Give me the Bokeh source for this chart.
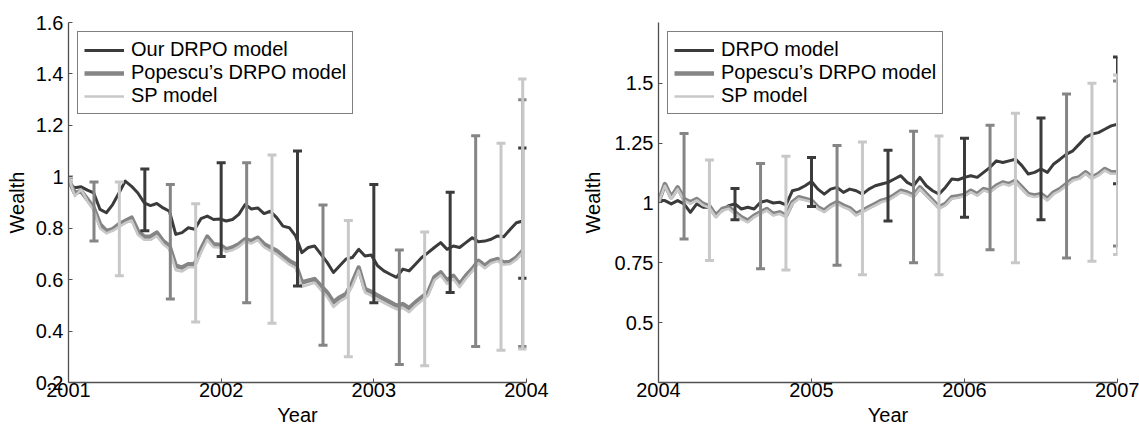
import numpy as np
from bokeh.plotting import figure
from bokeh.layouts import row
from bokeh.models import (Range1d, FixedTicker, CustomJSTickFormatter, Legend,
                          LegendItem, ColumnDataSource)
from bokeh.embed import file_html
from bokeh.resources import INLINE

FONT = "Liberation Sans"
FS = "20px"
DARK = "#3b3b3b"
MED = "#858585"
LIGHT = "#c8c8c8"

# ---------------- left panel data (2001-2004) ----------------
left_years = np.linspace(2001.0, 2003.975, 73)
left_ours = [0.976, 0.957, 0.961, 0.948, 0.937, 0.873, 0.860, 0.892, 0.937, 0.983,
             0.963, 0.937, 0.899, 0.888, 0.896, 0.879, 0.866, 0.776, 0.783, 0.802,
             0.796, 0.837, 0.847, 0.834, 0.836, 0.828, 0.834, 0.854, 0.892, 0.875,
             0.879, 0.857, 0.866, 0.841, 0.808, 0.802, 0.770, 0.705, 0.725, 0.731,
             0.699, 0.667, 0.628, 0.654, 0.680, 0.686, 0.718, 0.692, 0.696, 0.654,
             0.634, 0.621, 0.609, 0.641, 0.634, 0.660, 0.686, 0.705, 0.725, 0.744,
             0.718, 0.731, 0.725, 0.744, 0.763, 0.747, 0.750, 0.757, 0.770, 0.767,
             0.795, 0.821, 0.828]
left_pop = [0.989, 0.937, 0.944, 0.912, 0.879, 0.815, 0.789, 0.796, 0.815, 0.828,
            0.841, 0.789, 0.767, 0.767, 0.783, 0.750, 0.731, 0.654, 0.647, 0.660,
            0.660, 0.718, 0.767, 0.738, 0.735, 0.718, 0.725, 0.738, 0.757, 0.750,
            0.763, 0.738, 0.725, 0.712, 0.692, 0.673, 0.660, 0.589, 0.596, 0.602,
            0.576, 0.550, 0.512, 0.531, 0.544, 0.589, 0.647, 0.563, 0.553, 0.538,
            0.525, 0.512, 0.499, 0.505, 0.489, 0.512, 0.531, 0.550, 0.609, 0.628,
            0.596, 0.615, 0.583, 0.615, 0.641, 0.673, 0.654, 0.673, 0.680, 0.667,
            0.669, 0.686, 0.712]
left_sp = [1.000, 0.925, 0.950, 0.905, 0.870, 0.800, 0.780, 0.790, 0.805, 0.820,
           0.830, 0.775, 0.755, 0.755, 0.770, 0.738, 0.718, 0.637, 0.632, 0.648,
           0.648, 0.705, 0.755, 0.726, 0.725, 0.708, 0.715, 0.728, 0.748, 0.741,
           0.754, 0.726, 0.712, 0.698, 0.678, 0.659, 0.645, 0.572, 0.580, 0.588,
           0.560, 0.533, 0.494, 0.515, 0.530, 0.575, 0.635, 0.550, 0.538, 0.522,
           0.510, 0.497, 0.484, 0.490, 0.474, 0.498, 0.518, 0.538, 0.598, 0.617,
           0.584, 0.603, 0.571, 0.604, 0.632, 0.664, 0.644, 0.664, 0.672, 0.658,
           0.661, 0.678, 0.705]

left_ours_bar_x = [2001.0, 2001.5, 2002.0, 2002.5, 2003.0, 2003.5, 2003.975]
left_ours_bar_lo = [1.0, 0.79, 0.69, 0.575, 0.51, 0.55, 0.605]
left_ours_bar_hi = [1.0, 1.03, 1.055, 1.10, 0.97, 0.94, 1.112]
left_pop_bar_x = [2001.0, 2001.167, 2001.667, 2002.167, 2002.667, 2003.167, 2003.667, 2003.975]
left_pop_bar_lo = [1.0, 0.75, 0.525, 0.51, 0.345, 0.27, 0.34, 0.34]
left_pop_bar_hi = [1.0, 0.98, 0.97, 1.055, 0.89, 0.715, 1.16, 1.30]
left_sp_bar_x = [2001.0, 2001.333, 2001.833, 2002.333, 2002.833, 2003.333, 2003.833, 2003.975]
left_sp_bar_lo = [0.985, 0.615, 0.435, 0.43, 0.30, 0.265, 0.325, 0.33]
left_sp_bar_hi = [1.0, 0.98, 0.895, 1.085, 0.83, 0.785, 1.13, 1.38]

left_yticks = [0.2, 0.4, 0.6, 0.8, 1, 1.2, 1.4, 1.6]
left_xticks = [2001, 2002, 2003, 2004]
left_labels = ["Our DRPO model", "Popescu\u2019s DRPO model", "SP model"]

# ---------------- right panel data (2004-2007) ----------------
right_years = np.linspace(2004.0, 2007.0, 73)
right_ours = [1.010, 1.010, 0.996, 1.010, 0.996, 0.961, 0.996, 0.982, 0.982, 0.954,
              0.968, 0.989, 0.996, 0.975, 0.982, 0.975, 1.003, 1.010, 1.000, 1.003,
              0.992, 1.051, 1.058, 1.072, 1.090, 1.058, 1.037, 1.058, 1.065, 1.044,
              1.058, 1.051, 1.037, 1.058, 1.072, 1.079, 1.086, 1.100, 1.114, 1.086,
              1.072, 1.107, 1.072, 1.051, 1.037, 1.065, 1.100, 1.097, 1.107, 1.114,
              1.107, 1.128, 1.149, 1.176, 1.169, 1.176, 1.183, 1.156, 1.121, 1.128,
              1.142, 1.128, 1.163, 1.183, 1.204, 1.218, 1.246, 1.274, 1.288, 1.294,
              1.308, 1.322, 1.329]
right_pop = [1.003, 1.079, 1.024, 1.065, 1.017, 1.003, 1.017, 0.996, 0.986, 0.947,
             0.975, 0.982, 0.961, 0.940, 0.926, 0.947, 0.961, 0.975, 0.954, 0.961,
             0.947, 1.003, 1.024, 1.017, 1.010, 0.982, 0.968, 0.989, 1.003, 0.989,
             0.978, 0.954, 0.968, 0.982, 0.996, 1.010, 1.017, 1.033, 1.051, 1.044,
             1.031, 1.065, 1.037, 1.010, 0.982, 0.996, 1.024, 1.028, 1.034, 1.051,
             1.037, 1.058, 1.051, 1.072, 1.086, 1.079, 1.093, 1.065, 1.037, 1.031,
             1.037, 1.017, 1.044, 1.058, 1.079, 1.100, 1.107, 1.128, 1.107, 1.121,
             1.142, 1.128, 1.128]
right_sp = [1.000, 1.072, 1.018, 1.058, 1.010, 0.997, 1.011, 0.990, 0.980, 0.940,
            0.969, 0.976, 0.955, 0.933, 0.919, 0.941, 0.955, 0.969, 0.948, 0.955,
            0.941, 0.997, 1.018, 1.011, 1.004, 0.976, 0.962, 0.983, 0.997, 0.983,
            0.972, 0.948, 0.962, 0.976, 0.990, 1.004, 1.011, 1.027, 1.045, 1.038,
            1.025, 1.059, 1.031, 1.004, 0.976, 0.990, 1.018, 1.022, 1.028, 1.045,
            1.031, 1.052, 1.045, 1.066, 1.080, 1.073, 1.087, 1.059, 1.031, 1.025,
            1.031, 1.011, 1.038, 1.052, 1.073, 1.094, 1.101, 1.122, 1.101, 1.115,
            1.136, 1.122, 1.122]

right_ours_bar_x = [2004.5, 2005.0, 2005.5, 2006.0, 2006.5, 2007.0]
right_ours_bar_lo = [0.93, 0.985, 0.925, 0.94, 0.93, 1.08]
right_ours_bar_hi = [1.06, 1.19, 1.22, 1.27, 1.355, 1.61]
right_pop_bar_x = [2004.167, 2004.667, 2005.167, 2005.667, 2006.167, 2006.667, 2007.0]
right_pop_bar_lo = [0.85, 0.725, 0.74, 0.75, 0.805, 0.77, 0.82]
right_pop_bar_hi = [1.29, 1.165, 1.24, 1.30, 1.325, 1.455, 1.51]
right_sp_bar_x = [2004.333, 2004.833, 2005.333, 2005.833, 2006.333, 2006.833, 2007.0]
right_sp_bar_lo = [0.76, 0.72, 0.70, 0.70, 0.75, 0.757, 0.785]
right_sp_bar_hi = [1.18, 1.195, 1.255, 1.28, 1.375, 1.50, 1.535]

right_yticks = [0.5, 0.75, 1, 1.25, 1.5]
right_xticks = [2004, 2005, 2006, 2007]
right_labels = ["DRPO model", "Popescu\u2019s DRPO model", "SP model"]


def style_axes(p, xlabel, ylabel, xticks, yticks, ylab_standoff):
    p.xaxis.ticker = FixedTicker(ticks=xticks)
    p.yaxis.ticker = FixedTicker(ticks=yticks)
    p.xaxis.formatter = CustomJSTickFormatter(code="return String(tick);")
    p.yaxis.formatter = CustomJSTickFormatter(code="return String(tick);")
    p.xaxis.axis_label = xlabel
    p.yaxis.axis_label = ylabel
    for ax in (p.xaxis[0], p.yaxis[0]):
        ax.axis_line_color = "#505050"
        ax.axis_line_width = 1.3
        ax.major_tick_line_color = "#505050"
        ax.major_tick_in = 4
        ax.major_tick_out = 0
        ax.minor_tick_in = 0
        ax.minor_tick_out = 0
        ax.major_label_text_font = FONT
        ax.major_label_text_font_size = FS
        ax.major_label_text_color = "black"
        ax.axis_label_text_font = FONT
        ax.axis_label_text_font_size = FS
        ax.axis_label_text_font_style = "normal"
        ax.axis_label_text_color = "black"
    p.xaxis.major_label_standoff = 0
    p.xaxis.axis_label_standoff = 4
    p.yaxis.major_label_standoff = 5
    p.yaxis.axis_label_standoff = ylab_standoff
    p.xgrid.visible = False
    p.ygrid.visible = False
    p.outline_line_color = None


def errorbars(p, xs, lo, hi, color):
    src = ColumnDataSource(dict(x=xs, lo=lo, hi=hi))
    p.segment(x0="x", y0="lo", x1="x", y1="hi", source=src,
              line_color=color, line_width=3)
    p.scatter(x="x", y="lo", source=src, marker="dash", size=9,
              line_color=color, line_width=3)
    p.scatter(x="x", y="hi", source=src, marker="dash", size=9,
              line_color=color, line_width=3)


def panel(years, series, bars, labels, xr, yr, xticks, yticks,
          width, border_left, border_right, ylab_standoff):
    p = figure(width=width, height=428, output_backend="svg", toolbar_location=None,
               x_range=Range1d(*xr), y_range=Range1d(*yr),
               min_border_left=border_left, min_border_right=border_right,
               min_border_top=22, min_border_bottom=46,
               background_fill_color="white", border_fill_color="white")
    colors = [DARK, MED, LIGHT]
    widths = [3, 4.5, 2.6]
    rends = []
    for vals, c, w in zip(series, colors, widths):
        r = p.line(years, vals, line_color=c, line_width=w, line_join="round")
        rends.append(r)
    for (bx, blo, bhi), c in zip(bars, colors):
        errorbars(p, bx, blo, bhi, c)
    style_axes(p, "Year", "Wealth", xticks, yticks, ylab_standoff)
    legend = Legend(items=[LegendItem(label=l, renderers=[r]) for l, r in zip(labels, rends)],
                    location="top_left", margin=9, padding=6, spacing=0,
                    glyph_width=40, glyph_height=22, label_height=22,
                    label_standoff=7,
                    label_text_font=FONT, label_text_font_size=FS,
                    label_text_color="black",
                    border_line_color="black", border_line_width=1,
                    background_fill_color="white", background_fill_alpha=1.0)
    p.add_layout(legend)
    return p


left = panel(left_years, [left_ours, left_pop, left_sp],
             [(left_ours_bar_x, left_ours_bar_lo, left_ours_bar_hi),
              (left_pop_bar_x, left_pop_bar_lo, left_pop_bar_hi),
              (left_sp_bar_x, left_sp_bar_lo, left_sp_bar_hi)],
             left_labels, (2001, 2004), (0.2, 1.6), left_xticks, left_yticks,
             560, 68, 34, 5)

right = panel(right_years, [right_ours, right_pop, right_sp],
              [(right_ours_bar_x, right_ours_bar_lo, right_ours_bar_hi),
               (right_pop_bar_x, right_pop_bar_lo, right_pop_bar_hi),
               (right_sp_bar_x, right_sp_bar_lo, right_sp_bar_hi)],
              right_labels, (2004, 2007), (0.25, 1.754), right_xticks, right_yticks,
              579, 98, 22, 8)

layout = row(left, right)
open("out.html", "w").write(file_html(layout, INLINE))
